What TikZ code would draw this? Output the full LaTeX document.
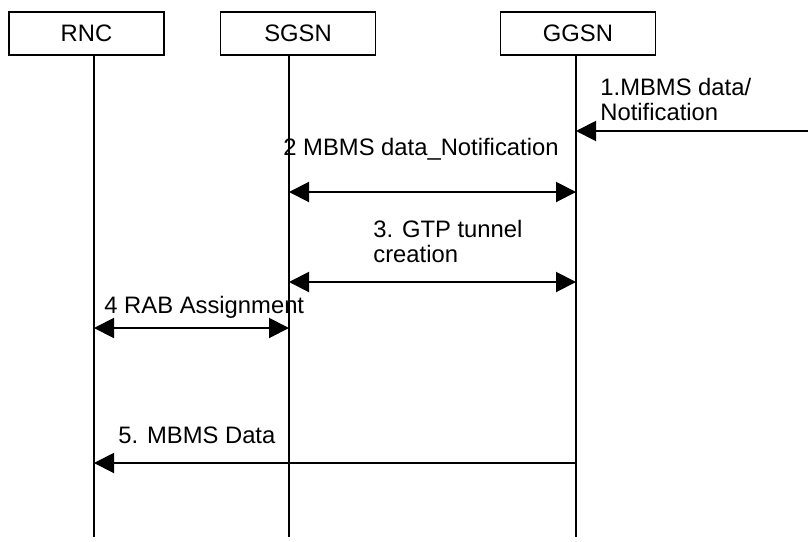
\documentclass[tikz,border=0pt]{standalone}
\usepackage{fontspec}
\setmainfont{Liberation Sans}
\usetikzlibrary{arrows.meta}
\begin{document}
\begin{tikzpicture}[x=0.5pt,y=-0.5pt,
  every node/.style={font=\fontsize{11.9}{12.5}\selectfont, inner sep=0pt},
  entity/.style={draw, line width=0.7pt, minimum width=77.5pt, minimum height=21.5pt},
  lifeline/.style={line width=0.65pt},
  msg/.style={line width=1pt, -{Triangle[length=10pt,width=10pt]}},
  bimsg/.style={line width=1pt, {Triangle[length=10pt,width=10pt]}-{Triangle[length=10pt,width=10pt]}},
  lbl/.style={anchor=base west}]
\useasboundingbox (0,0) rectangle (808,541);
% entities
\node[entity] (rnc) at (86.5,33.5) {RNC};
\node[entity] (sgsn) at (298,33.5) {SGSN};
\node[entity] (ggsn) at (578,33.5) {GGSN};
% lifeline ends
\coordinate (rncT) at (94,55);   \coordinate (rncB) at (94,537);
\coordinate (sgsnT) at (289,55); \coordinate (sgsnB) at (289,537);
\coordinate (ggsnT) at (576,55); \coordinate (ggsnB) at (576,537);
\draw[lifeline] (rncT) -- (rncB);
\draw[lifeline] (sgsnT) -- (sgsnB);
\draw[lifeline] (ggsnT) -- (ggsnB);
% message points
\coordinate (ext1) at (808,131); \coordinate (g1) at (576,131);
\coordinate (s2) at (289,192);   \coordinate (g2) at (576,192);
\coordinate (s3) at (289,282);   \coordinate (g3) at (576,282);
\coordinate (r4) at (94,328);    \coordinate (s4) at (289,328);
\coordinate (g5) at (576,463);   \coordinate (r5) at (94,463);
% messages
\draw[msg] (ext1) -- (g1);
\draw[bimsg] (s2) -- (g2);
\draw[bimsg] (s3) -- (g3);
\draw[bimsg] (r4) -- (s4);
\draw[msg] (g5) -- (r5);
% labels
\node[lbl] (l1a) at (600,95) {1.MBMS data/};
\node[lbl] (l1b) at (600,120) {Notification};
\node[lbl] (l2) at (283,155) {2 MBMS data\_Notification};
\node[lbl] (l3a) at (373,237) {3. GTP tunnel};
\node[lbl] (l3b) at (373,262) {creation};
\node[lbl] (l4) at (104,313) {4 RAB Assignment};
\node[lbl] (l5) at (118,443) {5. MBMS Data};
\end{tikzpicture}
\end{document}
